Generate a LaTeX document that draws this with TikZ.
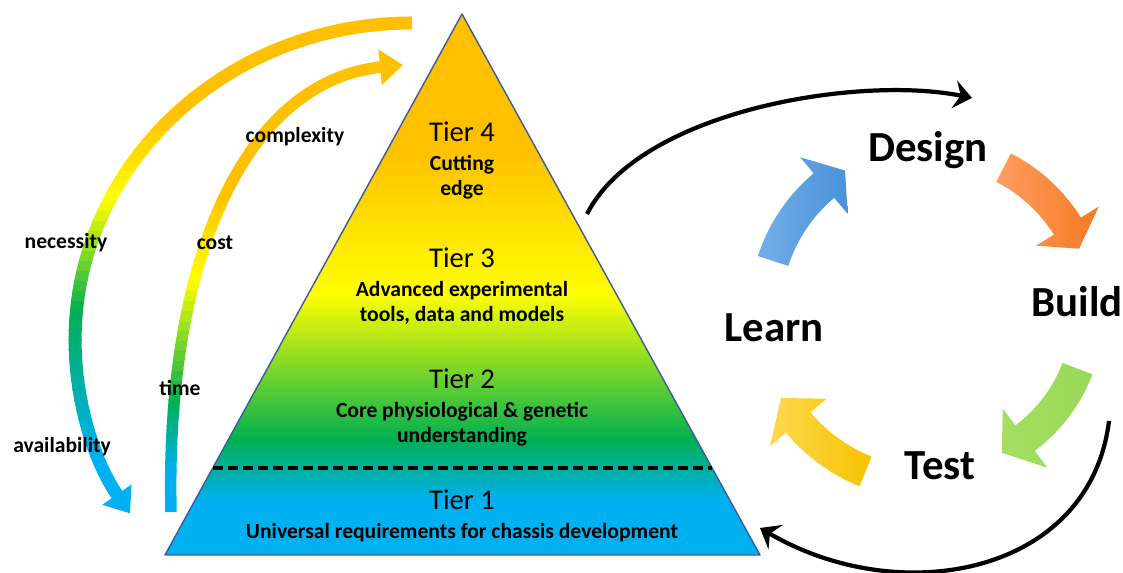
\documentclass[tikz,border=0pt]{standalone}
\usepackage{fontspec}
\setmainfont{Carlito}
\usetikzlibrary{arrows.meta,calc}
\definecolor{tOrange}{HTML}{FFC000}
\definecolor{tYellow}{HTML}{FFFF00}
\definecolor{tGreen}{HTML}{00B050}
\definecolor{tBlue}{HTML}{00B0F0}
\definecolor{triEdge}{HTML}{3A5C9C}
\definecolor{bLight}{HTML}{74AEE8}
\definecolor{bDark}{HTML}{4A92DA}
\definecolor{oLight}{HTML}{FF9D60}
\definecolor{oDark}{HTML}{F47A22}
\definecolor{gLight}{HTML}{A6DE62}
\definecolor{gDark}{HTML}{98D958}
\definecolor{yLight}{HTML}{FFD84E}
\definecolor{yDark}{HTML}{F6C300}
\newcommand\gradseg[6]{%
  \foreach \k in {1,...,#6}{%
    \pgfmathsetmacro\ya{#2+(#3-#2)*(\k-1)/#6-0.4}%
    \pgfmathsetmacro\yb{#2+(#3-#2)*\k/#6+0.4}%
    \pgfmathtruncatemacro\pp{(\k-0.5)*100/#6}%
    \colorlet{bandc}{#5!\pp!#4}%
    \begin{scope}\clip (0,\ya) rectangle (1123,\yb); #1\end{scope}}}
\def\outerarrow{\draw[line width=0.26cm, bandc, -{Triangle[length=0.46cm,width=0.68cm]}] (412,550) arc[start angle=90, end angle=213.2, x radius=6.74cm, y radius=6.34cm];}
\def\innerarrow{\draw[line width=0.23cm, bandc, -{Triangle[length=0.46cm,width=0.68cm]}] (171,61) .. controls (165,323) and (250,493) .. (403,508);}
\newcommand\blockarrow[6]{%
  \pgfmathsetmacro\Ro{#4+16}\pgfmathsetmacro\Ri{#4-16}%
  \pgfmathsetmacro\Ho{#4+37}\pgfmathsetmacro\Hi{#4-37}%
  \pgfmathsetmacro\ro{(#4+16)*0.02}\pgfmathsetmacro\ri{(#4-16)*0.02}%
  \shade[left color=#5, right color=#6]
    ($(C)+(#1:\Ro)$) arc[start angle=#1, end angle=#2, radius=\ro cm]
    -- ($(C)+(#2:\Ho)$) -- ($(C)+(#3:#4)$) -- ($(C)+(#2:\Hi)$)
    -- ($(C)+(#2:\Ri)$) arc[start angle=#2, end angle=#1, radius=\ri cm] -- cycle;}
\tikzset{
  tiertitle/.style={font=\fontsize{16.3}{19}\selectfont, inner sep=0pt},
  tierdesc/.style={font=\bfseries\fontsize{12.3}{14.2}\selectfont, align=center, inner sep=0pt},
  sidelabel/.style={font=\bfseries\fontsize{12.3}{14.2}\selectfont, inner sep=0pt},
  cyclelabel/.style={font=\bfseries\fontsize{24.4}{29}\selectfont, inner sep=0pt},
  blk/.style={line width=2.4pt, black, -{Stealth[length=0.36cm, width=0.56cm, inset=0.13cm]}}
}
\begin{document}
\begin{tikzpicture}[x=0.02cm, y=0.02cm]
\useasboundingbox (0,0) rectangle (1123,573);
% pyramid
\coordinate (apex) at (462,559);
\coordinate (bl) at (165,18);
\coordinate (br) at (760,18);
\begin{scope}
  \clip (apex) -- (bl) -- (br) -- cycle;
  \fill[tBlue] (150,10) rectangle (780,74);
  \shade[bottom color=tBlue, top color=tGreen] (150,73) rectangle (780,134);
  \shade[bottom color=tGreen, top color=tYellow] (150,133) rectangle (780,279);
  \shade[bottom color=tYellow, top color=tOrange] (150,278) rectangle (780,424);
  \fill[tOrange] (150,423) rectangle (780,570);
\end{scope}
\draw[triEdge, line width=0.8pt, line join=round] (apex) -- (bl) -- (br) -- cycle;
\coordinate (dl) at ($(bl)!{87/541}!(apex)$);
\coordinate (dr) at ($(br)!{87/541}!(apex)$);
\draw[line width=2pt, dash pattern=on 0.2cm off 0.1cm] (dl) -- (dr);
\node[tiertitle] (t4) at (462,441) {Tier 4};
\node[tierdesc] (d4) at (462,396) {Cutting\\edge};
\node[tiertitle] (t3) at (462,315) {Tier 3};
\node[tierdesc] (d3) at (462,270) {Advanced experimental\\tools, data and models};
\node[tiertitle] (t2) at (462,194) {Tier 2};
\node[tierdesc] (d2) at (462,149) {Core physiological \& genetic\\understanding};
\node[tiertitle] (t1) at (462,73) {Tier 1};
\node[tierdesc] (d1) at (462,40) {Universal requirements for chassis development};
% left gradient arrows
\gradseg{\outerarrow}{0}{123}{tBlue}{tBlue}{1}
\gradseg{\outerarrow}{123}{263}{tBlue}{tGreen}{14}
\gradseg{\outerarrow}{263}{373}{tGreen}{tYellow}{11}
\gradseg{\outerarrow}{373}{463}{tYellow}{tOrange}{9}
\gradseg{\outerarrow}{463}{573}{tOrange}{tOrange}{1}
\gradseg{\innerarrow}{0}{103}{tBlue}{tBlue}{1}
\gradseg{\innerarrow}{103}{173}{tBlue}{tGreen}{8}
\gradseg{\innerarrow}{173}{293}{tGreen}{tYellow}{12}
\gradseg{\innerarrow}{293}{383}{tYellow}{tOrange}{9}
\gradseg{\innerarrow}{383}{573}{tOrange}{tOrange}{1}
\node[sidelabel] (lcx) at (295,436) {complexity};
\node[sidelabel] (lne) at (66,330) {necessity};
\node[sidelabel] (lco) at (215,330) {cost};
\node[sidelabel] (lti) at (180,185) {time};
\node[sidelabel] (lav) at (62,126) {availability};
% DBTL cycle
\coordinate (C) at (930,261);
\blockarrow{162}{130}{121}{165}{bLight}{bDark}
\blockarrow{63}{32}{23}{162}{oLight}{oDark}
\blockarrow{-21}{-53}{-63}{158}{gLight}{gDark}
\blockarrow{248}{220}{210}{172}{yLight}{yDark}
\node[cyclelabel] (design) at (928,423) {Design};
\node[cyclelabel] (build) at (1077,271) {Build};
\node[cyclelabel] (test) at (940,107) {Test};
\node[cyclelabel] (learn) at (774,245) {Learn};
% black connectors
\coordinate (ts) at (587,359);
\coordinate (te) at (972,475);
\draw[blk] (ts) .. controls (640,463) and (860,498) .. (te);
\coordinate (bs) at (1109,152);
\coordinate (be) at (760,45);
\draw[blk] (bs) .. controls (1090,-2) and (900,-37) .. (be);
\end{tikzpicture}
\end{document}
